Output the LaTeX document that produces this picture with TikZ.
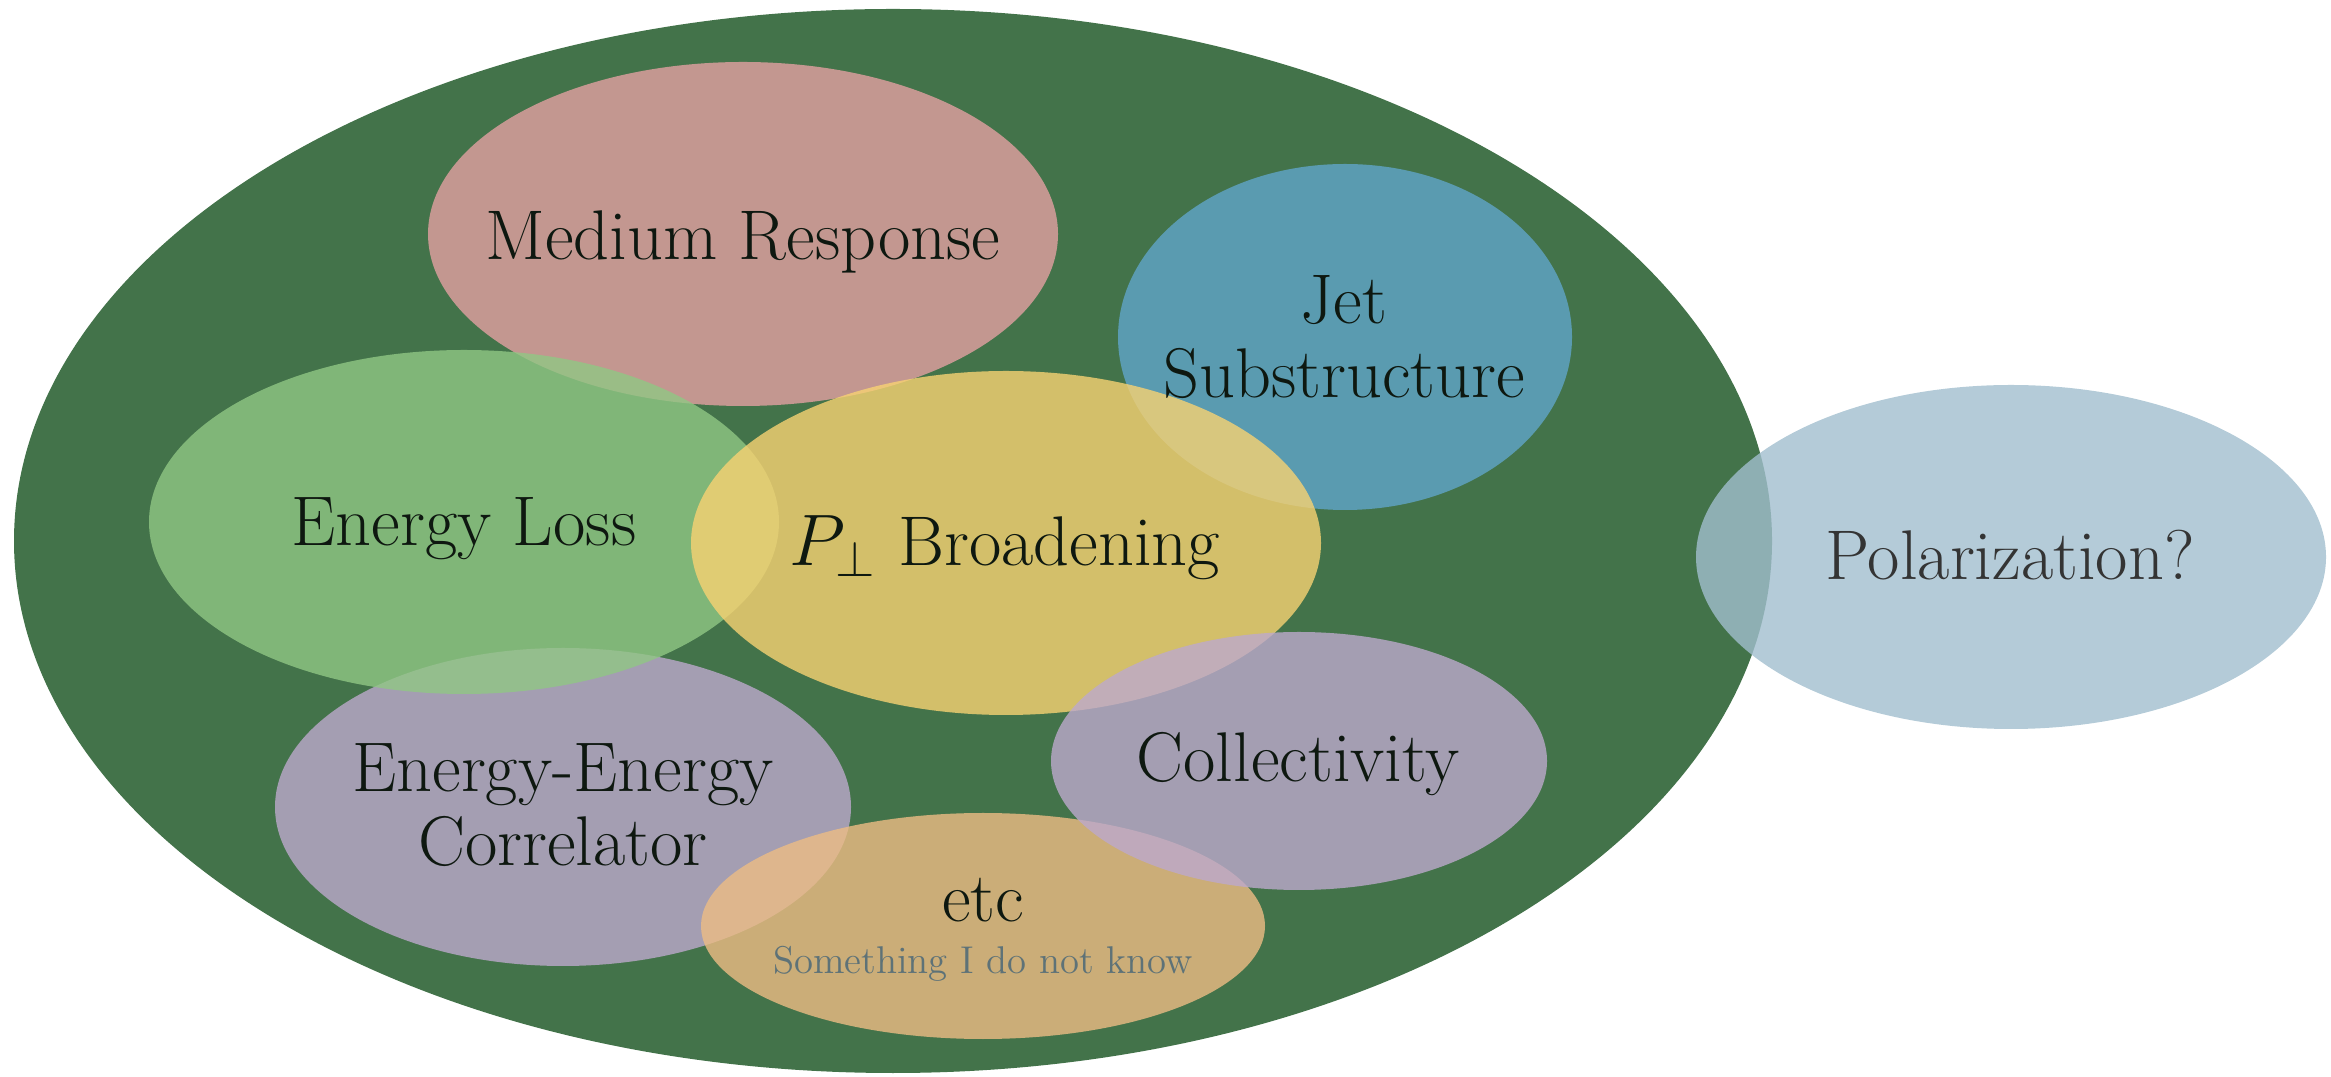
\documentclass[tikz,border=0pt]{standalone}
\usepackage{amsmath}
\usepackage{xcolor}
\usepackage{tikz}

\definecolor{bggreen}{RGB}{67,115,74}
\definecolor{mrpink}{RGB}{228,161,162}
\definecolor{jetblue}{RGB}{96,165,202}
\definecolor{elgreen}{RGB}{144,199,132}
\definecolor{ptyellow}{RGB}{248,210,114}
\definecolor{eecpurple}{RGB}{189,169,204}
\definecolor{etcorange}{RGB}{237,188,132}
\definecolor{polblue}{RGB}{161,190,206}
\definecolor{inkdark}{RGB}{14,24,16}
\definecolor{inkgray}{RGB}{52,52,52}
\definecolor{inkslate}{RGB}{94,114,119}

\begin{document}
\begin{tikzpicture}[x=0.01cm,y=-0.01cm,
    blob/.style={fill opacity=0.8},
    lbl/.style={inner sep=0pt,align=center,text=inkdark,font=\fontsize{20}{21}\selectfont}]
        \useasboundingbox (0,0) rectangle (2331,1077);
        \coordinate (all) at (893,541);
        \coordinate (mr) at (743,234);
        \coordinate (jet) at (1345,337);
        \coordinate (el) at (464,522);
        \coordinate (pt) at (1006,543);
        \coordinate (eec) at (563,807);
        \coordinate (col) at (1299,761);
        \coordinate (etc) at (983,926);
        \coordinate (pol) at (2011,557);
        \fill[bggreen] (all) ellipse [x radius=879,y radius=532];
        \fill[blob,mrpink] (mr) ellipse [x radius=315,y radius=172];
        \fill[blob,jetblue] (jet) ellipse [x radius=227,y radius=173];
        \fill[blob,eecpurple] (eec) ellipse [x radius=288,y radius=159];
        \fill[blob,elgreen] (el) ellipse [x radius=315,y radius=172];
        \fill[blob,ptyellow] (pt) ellipse [x radius=315,y radius=172];
        \fill[blob,etcorange] (etc) ellipse [x radius=282,y radius=113];
        \fill[blob,eecpurple] (col) ellipse [x radius=248,y radius=129];
        \fill[blob,polblue] (pol) ellipse [x radius=315,y radius=172];
        \node[lbl,anchor=base] (mrtext) at (743,260) {Medium Response};
        \node[lbl] (jettext) at (1344,337) {Jet\\Substructure};
        \node[lbl,anchor=base] (eltext) at (464,546) {Energy Loss};
        \node[lbl,anchor=base] (pttext) at (1005,566) {$P_\perp$ Broadening};
        \node[lbl] (eectext) at (563,805) {Energy-Energy\\Correlator};
        \node[lbl,anchor=base] (coltext) at (1298,782) {Collectivity};
        \node[lbl,anchor=base] (etctext) at (983,922) {etc};
        \node[lbl,anchor=base,text=inkslate,font=\fontsize{11}{13}\selectfont] (unknown) at (983,974) {Something I do not know};
        \node[lbl,anchor=base,text=inkgray] (poltext) at (2010,580) {Polarization?};
    \end{tikzpicture}
\end{document}
